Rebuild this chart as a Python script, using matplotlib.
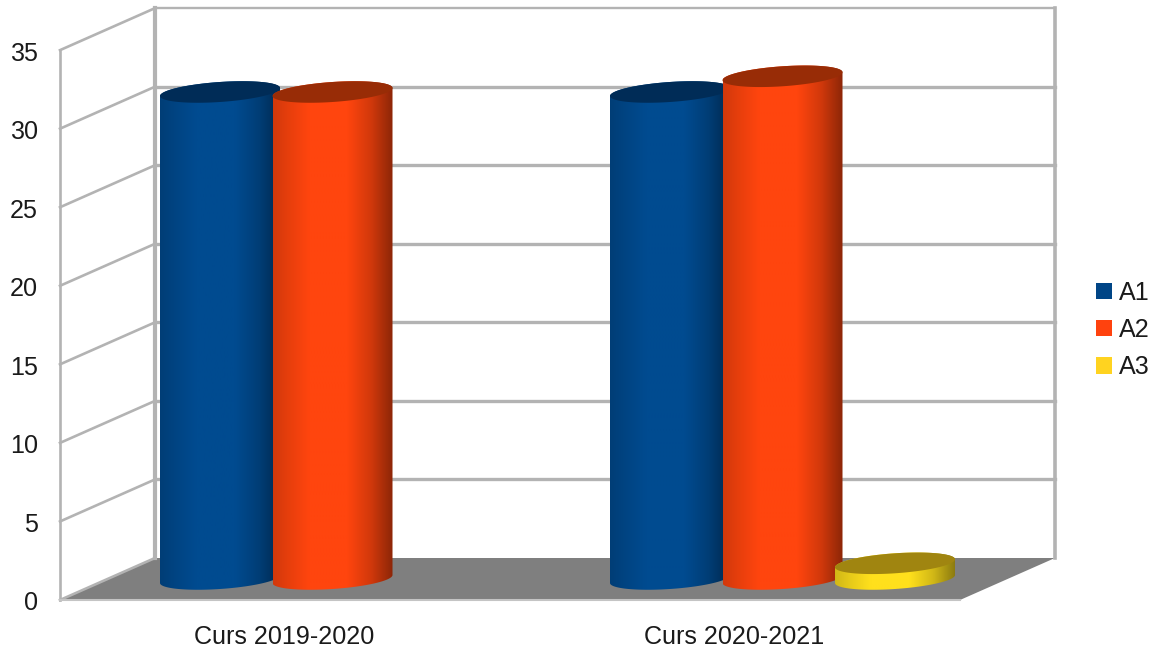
import numpy as np
import matplotlib
matplotlib.use('Agg')
import matplotlib.pyplot as plt
from matplotlib.patches import Polygon, Patch

plt.rcParams['font.family'] = ['Liberation Sans', 'DejaVu Sans']

categories = ['Curs 2019-2020', 'Curs 2020-2021']
a1 = [31, 31]
a2 = [31, 32]
a3 = [np.nan, 1]
series_names = ['A1', 'A2', 'A3']
y_ticks = [0, 5, 10, 15, 20, 25, 30, 35]

colors = ['#004586', '#ff420e', '#ffd320']
bar_colors = ['#004b90', '#ff450e', '#ffe01c']
top_colors = ['#002c57', '#982c06', '#a08510']

# scale of the picture, one unit in pixels
PX_CAT = 450.0
PX_VAL = 15.71
DX = 95 / PX_CAT    # depth of the box
DY = 42 / PX_VAL
GRID = '#b3b3b3'
FS = 18.1

fig = plt.figure(figsize=(11.6, 6.53), dpi=100)
ax = fig.add_axes([0, 0, 1, 1])
ax.axis('off')
xlim = (-285 / PX_CAT, 875 / PX_CAT)
ylim = (-53 / PX_VAL, 600 / PX_VAL)
x0, x1 = -0.5, len(categories) - 0.5
ymax = y_ticks[-1]

# floor
ax.add_patch(Polygon([(x0, 0), (x0 + DX, DY), (x1 + DX, DY), (x1, 0)],
                     closed=True, fc='#7f7f7f', ec='none', zorder=1))
ax.plot([x0, x1], [0, 0], color='#c4c4c4', lw=1.5, zorder=1.5)

# walls and grid
for v in y_ticks:
    ax.plot([x0, x0 + DX], [v, v + DY], color=GRID, lw=1.9, zorder=1.2)
    lw = 1.7 if v == ymax else 2.4
    if v > 0:
        ax.plot([x0 + DX, x1 + DX], [v + DY, v + DY], color=GRID, lw=lw, zorder=1.2)
    ax.text(x0 - 22 / PX_CAT, v - 3.5 / PX_VAL, str(v), ha='right', va='center',
            fontsize=FS, color='#1a1a1a')
ax.plot([x0, x0], [0, ymax], color=GRID, lw=1.9, zorder=1.3)
ax.plot([x0 + DX, x0 + DX], [DY, ymax + DY], color=GRID, lw=3, zorder=1.3)
ax.plot([x1 + DX, x1 + DX], [DY, ymax + DY], color=GRID, lw=2.6, zorder=1.3)

# cylinders
RX = 60 / PX_CAT
RY = 10 / PX_VAL
TILT = 4 / PX_VAL
stops = [0, 0.12, 0.3, 0.62, 0.82, 1]
shade = [0.82, 0.9, 1, 1, 0.82, 0.55]
z = 2
for i, vals in enumerate([a1, a2, a3]):
    for j, v in enumerate(vals):
        if np.isnan(v):
            continue
        cx = j + (i - 1) * 0.25 + DX / 2
        cy = DY / 2
        t_low = np.linspace(np.pi, 2 * np.pi, 80)
        t_up = np.linspace(0, np.pi, 80)
        low = np.c_[cx + RX * np.cos(t_low), cy + TILT * np.cos(t_low) + RY * np.sin(t_low)]
        up = np.c_[cx + RX * np.cos(t_up), cy + v + TILT * np.cos(t_up) + RY * np.sin(t_up)]
        body = Polygon(np.r_[low, up], closed=True, fc='none', ec='none',
                       transform=ax.transData)
        ax.add_patch(body)
        # shading goes across the width of the cylinder
        f = np.interp(np.linspace(0, 1, 200), stops, shade)
        rgb = np.array(matplotlib.colors.to_rgb(bar_colors[i]))
        grad = (f[:, None] * rgb)[None, :, :]
        im = ax.imshow(grad, extent=[cx - RX, cx + RX, -2, v + 3], aspect='auto',
                       interpolation='bilinear', zorder=z)
        im.set_clip_path(body)
        t = np.linspace(0, 2 * np.pi, 160)
        top = np.c_[cx + RX * np.cos(t), cy + v + TILT * np.cos(t) + RY * np.sin(t)]
        ax.add_patch(Polygon(top, closed=True, fc=top_colors[i], ec='none', zorder=z + 0.1))
        z += 1

for j, name in enumerate(categories):
    ax.text(j - 1 / PX_CAT, -37 / PX_VAL, name, ha='center', va='center',
            fontsize=FS, color='#1a1a1a')

handles = [Patch(fc=c, ec='none', label=n) for c, n in zip(colors, series_names)]
ax.legend(handles=handles, loc='center left', bbox_to_anchor=(1096 / 1160, 1 - 330 / 653),
          frameon=False, fontsize=FS, handlelength=0.64, handleheight=0.64,
          handletextpad=0.26, labelspacing=0.53, borderpad=0, borderaxespad=0,
          labelcolor='#1a1a1a')

ax.set_xlim(xlim)
ax.set_ylim(ylim)

fig.savefig('out.png', dpi=100)
